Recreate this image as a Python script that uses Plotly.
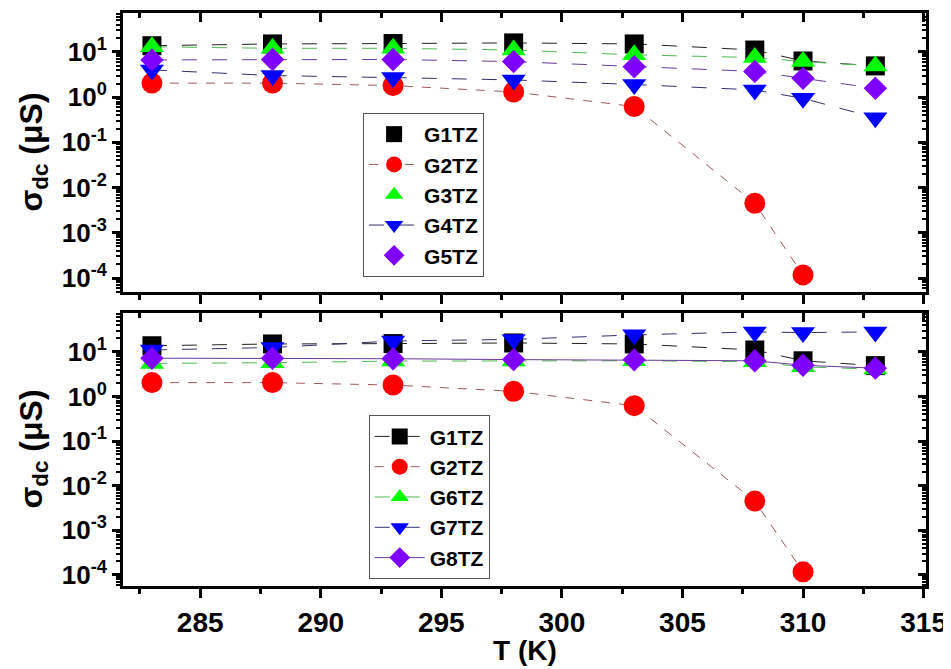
import plotly.graph_objects as go

# ---------------- data ----------------
T = [283, 288, 293, 298, 303, 308, 310, 313]
T_G2 = [283, 288, 293, 298, 303, 308, 310]

G1TZ = [13.7, 15.0, 15.3, 15.8, 15.0, 11.0, 6.3, 4.9]
G2TZ = [2.04, 2.04, 1.8, 1.3, 0.62, 0.0045, 0.000117]
G3TZ = [13.0, 12.0, 12.0, 11.0, 8.6, 7.5, 6.1, 4.9]
G4TZ = [4.0, 3.0, 2.7, 2.4, 1.9, 1.44, 0.94, 0.35]
G5TZ = [6.65, 6.8, 6.8, 6.1, 4.7, 3.7, 2.6, 1.57]

G6TZ = [5.5, 5.7, 6.2, 6.2, 6.3, 6.0, 4.6, 4.1]
G7TZ = [11.0, 12.5, 17.5, 19.0, 24.0, 28.0, 27.0, 28.0]
G8TZ = [7.2, 7.2, 7.0, 6.7, 6.6, 6.3, 5.0, 4.3]

y_tickvals = [1e-4, 1e-3, 1e-2, 1e-1, 1, 10]
y_ticktext = ["10<sup>-4</sup>", "10<sup>-3</sup>", "10<sup>-2</sup>",
              "10<sup>-1</sup>", "10<sup>0</sup>", "10<sup>1</sup>"]
x_tickvals = [285, 290, 295, 300, 305, 310, 315]

# ---------------- styles ----------------
FONT = "Liberation Sans"
minor_y = [k * 10.0 ** e for e in range(-5, 2) for k in range(2, 10)]
minor_x = [282.5, 287.5, 292.5, 297.5, 302.5, 307.5, 312.5]

fig = go.Figure()

def add_series(name, x, y, mcolor, lcolor, symbol, size, dash, xa, ya, leg, legend_line=True):
    if legend_line:
        fig.add_trace(go.Scatter(
            x=x, y=y, name=name, mode="lines+markers",
            line=dict(color=lcolor, width=1, dash=dash),
            marker=dict(color=mcolor, symbol=symbol, size=size, line=dict(width=0)),
            xaxis=xa, yaxis=ya, legend=leg))
    else:
        fig.add_trace(go.Scatter(
            x=x, y=y, name=name, mode="lines", showlegend=False,
            line=dict(color=lcolor, width=1, dash=dash),
            xaxis=xa, yaxis=ya))
        fig.add_trace(go.Scatter(
            x=x, y=y, name=name, mode="markers",
            marker=dict(color=mcolor, symbol=symbol, size=size, line=dict(width=0)),
            xaxis=xa, yaxis=ya, legend=leg))

# top panel
add_series("G1TZ", T, G1TZ, "#000000", "#222222", "square", 19, "longdash", "x", "y", "legend", False)
add_series("G2TZ", T_G2, G2TZ, "#ff0000", "#a05a5a", "circle", 21, "dash", "x", "y", "legend", True)
add_series("G3TZ", T, G3TZ, "#00ff00", "#50b850", "triangle-up", 21, "longdash", "x", "y", "legend", False)
add_series("G4TZ", T, G4TZ, "#0000ff", "#303070", "triangle-down", 21, "longdash", "x", "y", "legend", True)
add_series("G5TZ", T, G5TZ, "#8000ff", "#6a3a9a", "diamond", 18, "longdash", "x", "y", "legend", False)

# bottom panel
add_series("G1TZ", T, G1TZ, "#000000", "#222222", "square", 19, "longdash", "x2", "y2", "legend2", True)
add_series("G2TZ", T_G2, G2TZ, "#ff0000", "#a05a5a", "circle", 21, "dash", "x2", "y2", "legend2", True)
add_series("G6TZ", T, G6TZ, "#00ff00", "#50b850", "triangle-up", 21, "longdash", "x2", "y2", "legend2", True)
add_series("G7TZ", T, G7TZ, "#0000ff", "#303070", "triangle-down", 21, "longdash", "x2", "y2", "legend2", True)
add_series("G8TZ", T, G8TZ, "#8000ff", "#6a3a9a", "diamond", 18, "solid", "x2", "y2", "legend2", True)

# dummy traces so mirrored (inside-tick) axes get drawn
for xa, ya in [("x3", "y"), ("x", "y3"), ("x4", "y2"), ("x2", "y4")]:
    fig.add_trace(go.Scatter(x=[None], y=[None], xaxis=xa, yaxis=ya,
                             showlegend=False, hoverinfo="skip", mode="markers"))

XR = [281.8, 315.1]
YR_TOP = [-4.31, 1.86]
YR_BOT = [-4.25, 1.87]
TOP_DOM = [0.513, 1.0]
BOT_DOM = [0.0, 0.4764]

tickfont_x = dict(family=FONT, size=28, color="black", weight="bold")
tickfont_y = dict(family=FONT, size=26, color="black", weight="bold")

def xaxis_base(anchor, labels):
    return dict(anchor=anchor, range=XR, tickvals=x_tickvals, showticklabels=labels,
                ticks="outside", ticklen=9, tickwidth=3, tickcolor="black",
                showline=True, linewidth=3, linecolor="black", mirror=True,
                showgrid=False, zeroline=False, tickfont=tickfont_x, automargin=False,
                minor=dict(tickvals=minor_x, ticks="outside", ticklen=5, tickwidth=2.5,
                           tickcolor="black", showgrid=False))

def xaxis_mirror(overlay, anchor):
    return dict(overlaying=overlay, anchor=anchor, side="top", range=XR,
                tickvals=x_tickvals, showticklabels=False, ticks="inside",
                ticklen=9, tickwidth=3, tickcolor="black", showline=False,
                showgrid=False, zeroline=False, automargin=False,
                minor=dict(tickvals=minor_x, ticks="inside", ticklen=5, tickwidth=2.5,
                           tickcolor="black", showgrid=False))

def yaxis_base(anchor, dom, rng):
    return dict(anchor=anchor, domain=dom, type="log", range=rng,
                tickvals=y_tickvals, ticktext=y_ticktext,
                ticks="outside", ticklen=8, tickwidth=3, tickcolor="black",
                showline=True, linewidth=3, linecolor="black", mirror=True,
                showgrid=False, zeroline=False, tickfont=tickfont_y, automargin=False,
                minor=dict(tickvals=minor_y, ticks="outside", ticklen=4, tickwidth=2,
                           tickcolor="black", showgrid=False))

def yaxis_mirror(overlay, anchor, rng):
    return dict(overlaying=overlay, anchor=anchor, side="right", type="log", range=rng,
                tickvals=y_tickvals, showticklabels=False, ticks="inside",
                ticklen=8, tickwidth=3, tickcolor="black", showline=False,
                showgrid=False, zeroline=False, automargin=False,
                minor=dict(tickvals=minor_y, ticks="inside", ticklen=4, tickwidth=2,
                           tickcolor="black", showgrid=False))

legend_common = dict(
    bgcolor="white", bordercolor="#555555", borderwidth=1,
    font=dict(family=FONT, size=21, color="black", weight="bold"),
    xanchor="left", yanchor="top", tracegroupgap=0, itemwidth=50,
)

title_font = dict(family=FONT, size=32, color="black", weight="bold")

# the page body adds an 8px offset; margins are set so the plot area lands
# at x 123..926, y 13..586 in the 951x669 window
fig.update_layout(
    width=951, height=669,
    margin=dict(l=115, r=33, t=5, b=91, autoexpand=False),
    plot_bgcolor="white", paper_bgcolor="white",
    xaxis=xaxis_base("y", False),
    xaxis2=xaxis_base("y2", True),
    xaxis3=xaxis_mirror("x", "y"),
    xaxis4=xaxis_mirror("x2", "y2"),
    yaxis=yaxis_base("x", TOP_DOM, YR_TOP),
    yaxis2=yaxis_base("x2", BOT_DOM, YR_BOT),
    yaxis3=yaxis_mirror("y", "x", YR_TOP),
    yaxis4=yaxis_mirror("y2", "x2", YR_BOT),
    legend=dict(x=0.299, y=0.8255, **legend_common),
    legend2=dict(x=0.306, y=0.298, **legend_common),
    showlegend=True,
    annotations=[
        dict(text="σ<sub>dc</sub> (μS)", xref="paper", yref="paper",
             x=-0.112, y=(TOP_DOM[0] + TOP_DOM[1]) / 2, textangle=-90,
             xanchor="center", yanchor="middle",
             showarrow=False, font=title_font),
        dict(text="σ<sub>dc</sub> (μS)", xref="paper", yref="paper",
             x=-0.112, y=(BOT_DOM[0] + BOT_DOM[1]) / 2, textangle=-90,
             xanchor="center", yanchor="middle",
             showarrow=False, font=title_font),
        dict(text="T (K)", xref="paper", yref="paper", x=0.5, y=-0.1134,
             xanchor="center", yanchor="middle", showarrow=False,
             font=dict(family=FONT, size=28, color="black", weight="bold")),
    ],
)

fig.write_html("out.html")
